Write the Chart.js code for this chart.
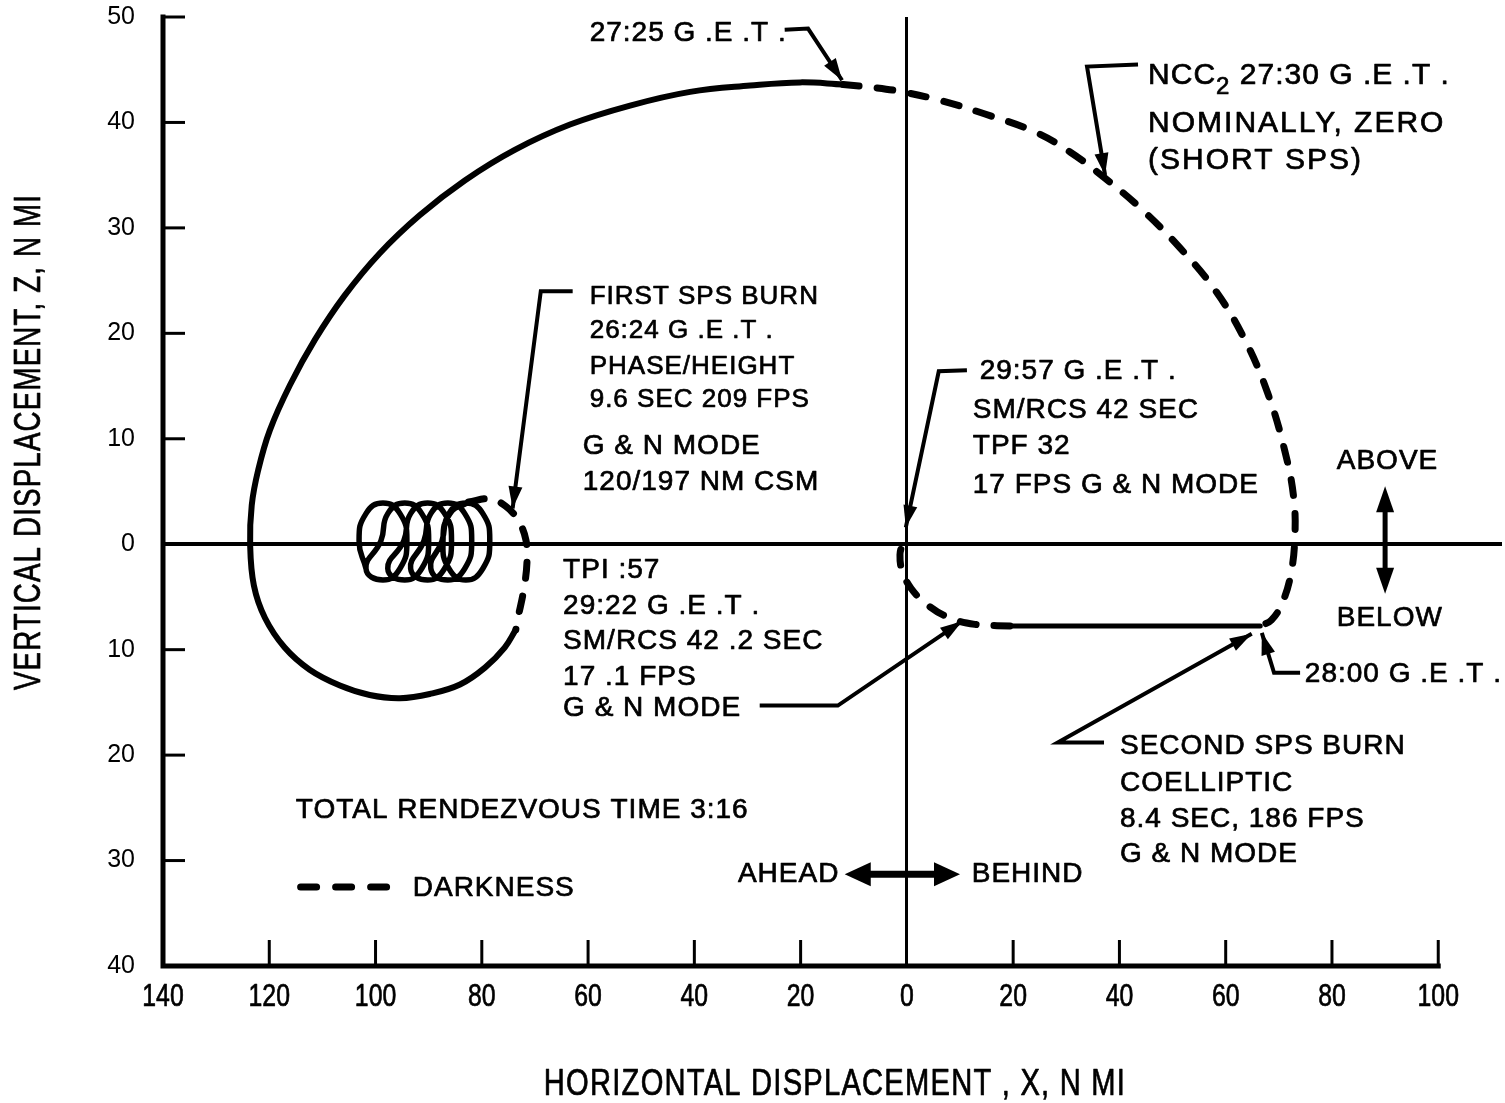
<!DOCTYPE html>
<html>
<head>
<meta charset="utf-8">
<script src="https://cdn.jsdelivr.net/npm/chart.js@4.4.1/dist/chart.umd.min.js"></script>
<style>
  body { margin: 0; background: #fff; }
  #wrap { width: 1505px; height: 1103px; }
</style>
</head>
<body>
<div id="wrap"><canvas id="myChart"></canvas></div>
<script>
// x < 0 is AHEAD (left half of the plot), y < 0 is BELOW; labels show absolute values
const xTickValues = [-140, -120, -100, -80, -60, -40, -20, 0, 20, 40, 60, 80, 100];
const yTickValues = [-40, -30, -20, -10, 0, 10, 20, 30, 40, 50];

// station keeping loops before the first SPS burn
const loopTrack = [
  [-101.8, -2.3], [-103.1, 0.3], [-101.8, 2.9], [-98.6, 3.9], [-95.4, 2.9], [-94.1, 0.3], [-95.4, -2.3], [-98.6, -3.4], [-101.8, -2.3],
  [-99.0, 0.3], [-97.7, 2.9], [-94.5, 3.9], [-91.3, 2.9], [-90.0, 0.3], [-91.3, -2.3], [-94.5, -3.4], [-97.7, -2.3],
  [-94.7, 0.3], [-93.4, 2.9], [-90.2, 3.9], [-87.0, 2.9], [-85.7, 0.3], [-87.0, -2.3], [-90.2, -3.4], [-93.4, -2.3],
  [-90.9, 0.3], [-89.6, 2.9], [-86.4, 3.9], [-83.2, 2.9], [-81.9, 0.3], [-83.2, -2.3], [-86.4, -3.4], [-89.6, -2.3],
  [-87.5, 0.3], [-86.2, 2.9], [-83.0, 3.9], [-79.8, 2.9], [-78.5, 0.3], [-79.8, -2.3], [-83.0, -3.4], [-86.2, -2.3],
  [-87.3, 0.3], [-86.0, 2.9], [-82.5, 4.0]
];

// darkness after the first SPS burn
const darkTrack1 = [
  [-82.5, 4.0], [-78.5, 4.3], [-75.5, 3.6], [-73.2, 2.3], [-71.7, 0.4], [-71.5, -1.7], [-72.1, -4.3], [-73.2, -7.0], [-73.6, -8.1]
];

// daylight, big loop up to 27:25
const lightTrack1 = [
  [-73.6, -8.1], [-75.7, -9.8], [-79.4, -11.7], [-84.1, -13.3], [-89.8, -14.2], [-95.4, -14.6], [-101.1, -14.3],
  [-106.7, -13.4], [-112.4, -11.9], [-117.1, -9.8], [-120.8, -7.0], [-122.9, -3.9], [-123.6, 0], [-123.3, 3.7],
  [-122.1, 7.0], [-119.9, 10.8], [-116.1, 15.1], [-111.4, 19.4], [-105.8, 23.6], [-99.2, 27.6], [-91.7, 31.2],
  [-83.2, 34.5], [-73.8, 37.4], [-63.4, 39.8], [-52.1, 41.6], [-40.8, 42.9], [-29.5, 43.5], [-20.1, 43.8], [-12.0, 43.6]
];

// darkness 27:25 -> 28:00
const darkTrack2 = [
  [-12.0, 43.6], [-6.0, 43.3], [-0.8, 42.9], [6.2, 42.1], [14.7, 40.8], [24.1, 39.1], [30.7, 37.2], [37.3, 34.7],
  [43.9, 31.9], [51.4, 28.1], [58.0, 24.1], [63.6, 19.4], [68.0, 14.2], [71.1, 8.9], [72.8, 4.4], [73.0, 0.5],
  [72.2, -3.0], [70.6, -5.6], [68.6, -7.2], [66.5, -7.75]
];

// coelliptic leg
const lightTrack2 = [[66.5, -7.75], [19.4, -7.75]];

// darkness, TPI to rendezvous
const darkTrack3 = [
  [19.4, -7.75], [12.8, -7.6], [8.1, -7.0], [4.0, -5.8], [0.8, -4.2], [-0.9, -2.5], [-1.3, -1.0], [-0.8, 0.1]
];

const toXY = arr => arr.map(p => ({ x: p[0], y: p[1] }));

// text notes, anchored at the left/middle of each line (axis units)
const notes = [
  { x: -59.7, y: 48.5, size: 28, text: "27:25 G .E .T ." },
  { x: 45.4, y: 39.9, size: 30, text: "NOMINALLY, ZERO", spacing: 2 },
  { x: 45.4, y: 36.4, size: 30, text: "(SHORT SPS)", spacing: 2 },
  { x: -59.7, y: 23.5, size: 26, text: "FIRST SPS BURN" },
  { x: -59.7, y: 20.2, size: 26, text: "26:24 G .E .T ." },
  { x: -59.7, y: 16.8, size: 26, text: "PHASE/HEIGHT" },
  { x: -59.7, y: 13.7, size: 26, text: "9.6 SEC 209 FPS" },
  { x: -61.0, y: 9.3, size: 28, text: "G & N MODE" },
  { x: -61.0, y: 5.9, size: 28, text: "120/197 NM CSM" },
  { x: 13.7, y: 16.4, size: 28, text: "29:57 G .E .T ." },
  { x: 12.4, y: 12.7, size: 28, text: "SM/RCS 42 SEC" },
  { x: 12.4, y: 9.3, size: 28, text: "TPF 32" },
  { x: 12.4, y: 5.6, size: 28, text: "17 FPS G & N MODE" },
  { x: -64.7, y: -2.5, size: 28, text: "TPI :57" },
  { x: -64.7, y: -5.9, size: 28, text: "29:22 G .E .T ." },
  { x: -64.7, y: -9.2, size: 28, text: "SM/RCS 42 .2 SEC" },
  { x: -64.7, y: -12.6, size: 28, text: "17 .1 FPS" },
  { x: -64.7, y: -15.6, size: 28, text: "G & N MODE" },
  { x: 74.9, y: -12.3, size: 28, text: "28:00 G .E .T ." },
  { x: 40.1, y: -19.2, size: 28, text: "SECOND SPS BURN" },
  { x: 40.1, y: -22.7, size: 28, text: "COELLIPTIC" },
  { x: 40.1, y: -26.1, size: 28, text: "8.4 SEC, 186 FPS" },
  { x: 40.1, y: -29.4, size: 28, text: "G & N MODE" },
  { x: -115.0, y: -25.2, size: 28, text: "TOTAL RENDEZVOUS TIME 3:16" },
  { x: -93.0, y: -32.6, size: 28, text: "DARKNESS" },
  { x: -31.8, y: -31.3, size: 28, text: "AHEAD" },
  { x: 12.2, y: -31.3, size: 28, text: "BEHIND" },
  { x: 80.9, y: 7.9, size: 28, text: "ABOVE" },
  { x: 80.9, y: -7.0, size: 28, text: "BELOW" }
];

// leader lines, last point carries the arrow head
const leaders = [
  [[-23.0, 48.8], [-18.6, 48.9], [-12.2, 44.0]],
  [[43.5, 45.5], [33.9, 45.3], [37.3, 35.0]],
  [[-62.9, 24.0], [-68.9, 24.0], [-74.2, 3.4]],
  [[11.3, 16.5], [6.0, 16.4], [-0.2, 1.6]],
  [[-27.7, -15.3], [-13.0, -15.3], [10.4, -7.3]],
  [[74.0, -12.2], [69.1, -12.2], [66.8, -8.4]],
  [[37.1, -18.8], [28.4, -18.8], [64.9, -8.5]]
];

const FONT = "'Liberation Sans', Arial, sans-serif";

function arrowHead(ctx, x0, y0, x1, y1, len, half) {
  const a = Math.atan2(y1 - y0, x1 - x0);
  ctx.beginPath();
  ctx.moveTo(x1, y1);
  ctx.lineTo(x1 - len * Math.cos(a) + half * Math.sin(a), y1 - len * Math.sin(a) - half * Math.cos(a));
  ctx.lineTo(x1 - len * Math.cos(a) - half * Math.sin(a), y1 - len * Math.sin(a) + half * Math.cos(a));
  ctx.closePath();
  ctx.fill();
}

// heavier lettering: fill plus a hairline stroke
function inkText(ctx, text, x, y) {
  ctx.fillText(text, x, y);
  ctx.strokeText(text, x, y);
}

// condensed text: squeeze horizontally around the anchor
function narrowText(ctx, text, x, y, squeeze) {
  ctx.save();
  ctx.translate(x, y);
  ctx.scale(squeeze, 1);
  inkText(ctx, text, 0, 0);
  ctx.restore();
}

const paperPlugin = {
  id: "paper",
  afterDraw(chart) {
    const ctx = chart.ctx;
    const xs = chart.scales.x, ys = chart.scales.y;
    const px = v => xs.getPixelForValue(v);
    const py = v => ys.getPixelForValue(v);
    ctx.save();
    ctx.strokeStyle = "#000";
    ctx.fillStyle = "#000";

    // axis frame (left + bottom only)
    ctx.lineWidth = 5;
    ctx.lineCap = "square";
    ctx.beginPath();
    ctx.moveTo(px(-140), py(50));
    ctx.lineTo(px(-140), py(-40));
    ctx.lineTo(px(100), py(-40));
    ctx.stroke();

    // inward tick marks
    ctx.lineWidth = 3;
    ctx.lineCap = "butt";
    yTickValues.forEach(v => {
      if (v === -40 || v === 0) return;
      ctx.beginPath();
      ctx.moveTo(px(-140), py(v));
      ctx.lineTo(px(-140) + 22, py(v));
      ctx.stroke();
    });
    xTickValues.forEach(v => {
      if (v === -140 || v === 0) return;
      ctx.beginPath();
      ctx.moveTo(px(v), py(-40));
      ctx.lineTo(px(v), py(-40) - 26);
      ctx.stroke();
    });

    // leaders
    ctx.lineWidth = 4;
    ctx.lineJoin = "miter";
    leaders.forEach(pts => {
      ctx.beginPath();
      pts.forEach((p, i) => i ? ctx.lineTo(px(p[0]), py(p[1])) : ctx.moveTo(px(p[0]), py(p[1])));
      ctx.stroke();
      const a = pts[pts.length - 2], b = pts[pts.length - 1];
      arrowHead(ctx, px(a[0]), py(a[1]), px(b[0]), py(b[1]), 22, 7);
    });

    // AHEAD <-> BEHIND
    ctx.lineWidth = 7;
    const ay = py(-31.3), ax0 = px(-11.7), ax1 = px(10.0);
    ctx.beginPath(); ctx.moveTo(ax0 + 15, ay); ctx.lineTo(ax1 - 15, ay); ctx.stroke();
    arrowHead(ctx, ax1, ay, ax0, ay, 26, 12);
    arrowHead(ctx, ax0, ay, ax1, ay, 26, 12);

    // ABOVE / BELOW
    ctx.lineWidth = 5;
    const bx = px(90.0), by0 = py(5.5), by1 = py(-4.7);
    ctx.beginPath(); ctx.moveTo(bx, by0 + 15); ctx.lineTo(bx, by1 - 15); ctx.stroke();
    arrowHead(ctx, bx, by1, bx, by0, 26, 9);
    arrowHead(ctx, bx, by0, bx, by1, 26, 9);

    // darkness key
    ctx.lineWidth = 7;
    ctx.lineCap = "round";
    ctx.setLineDash([16, 19]);
    ctx.beginPath(); ctx.moveTo(px(-114.1), py(-32.5)); ctx.lineTo(px(-97.6), py(-32.5)); ctx.stroke();
    ctx.setLineDash([]);

    // all lettering from here on
    ctx.lineWidth = 0.7;
    ctx.lineJoin = "round";

    // x tick labels, condensed like the original lettering
    ctx.textAlign = "center";
    ctx.textBaseline = "middle";
    ctx.font = "31px " + FONT;
    ctx.letterSpacing = "0px";
    xs.ticks.forEach(t => {
      narrowText(ctx, String(Math.abs(t.value)), px(t.value), py(-40) + 31, 0.8);
    });

    // notes
    ctx.textAlign = "left";
    notes.forEach(n => {
      ctx.font = n.size + "px " + FONT;
      ctx.letterSpacing = (n.spacing || 1) + "px";
      inkText(ctx, n.text, px(n.x), py(n.y));
    });

    // NCC2 line with subscript
    let nx = px(45.4);
    const ny = py(44.4);
    ctx.font = "30px " + FONT;
    ctx.letterSpacing = "1px";
    inkText(ctx, "NCC", nx, ny);
    nx += ctx.measureText("NCC").width;
    ctx.font = "24px " + FONT;
    inkText(ctx, "2", nx, ny + 11);
    nx += ctx.measureText("2").width;
    ctx.font = "30px " + FONT;
    inkText(ctx, " 27:30 G .E .T .", nx, ny);

    // axis titles
    ctx.textAlign = "center";
    ctx.font = "36px " + FONT;
    ctx.letterSpacing = "1.5px";
    narrowText(ctx, "HORIZONTAL DISPLACEMENT , X, N MI", 835, chart.height - 18, 0.81);
    ctx.translate(30, 442);
    ctx.rotate(-Math.PI / 2);
    narrowText(ctx, "VERTICAL DISPLACEMENT, Z, N MI", 0, 0, 0.77);
    ctx.restore();
  }
};

const trackStyle = {
  showLine: true,
  borderColor: "#000",
  borderWidth: 6,
  pointRadius: 0,
  fill: false,
  borderCapStyle: "round",
  borderJoinStyle: "round"
};
const darkDash = [16, 18];

const ctx = document.getElementById("myChart").getContext("2d");
new Chart(ctx, {
  type: "scatter",
  data: {
    datasets: [
      Object.assign({ data: toXY(loopTrack), tension: 0.5 }, trackStyle, { borderWidth: 5.5 }),
      Object.assign({ data: toXY(darkTrack1), tension: 0.4, borderDash: darkDash }, trackStyle, { borderWidth: 7 }),
      Object.assign({ data: toXY(lightTrack1), tension: 0.4 }, trackStyle),
      Object.assign({ data: toXY(darkTrack2), tension: 0.4, borderDash: darkDash }, trackStyle, { borderWidth: 7 }),
      Object.assign({ data: toXY(lightTrack2), tension: 0 }, trackStyle, { borderWidth: 5 }),
      Object.assign({ data: toXY(darkTrack3), tension: 0.4, borderDash: darkDash }, trackStyle, { borderWidth: 7 })
    ]
  },
  options: {
    responsive: true,
    maintainAspectRatio: false,
    animation: false,
    devicePixelRatio: 1,
    layout: { padding: { top: 17, right: 3, bottom: 0, left: 0 } },
    plugins: { legend: { display: false }, tooltip: { enabled: false } },
    scales: {
      x: {
        type: "linear",
        min: -140,
        max: 112,
        afterBuildTicks: s => { s.ticks = xTickValues.map(v => ({ value: v })); },
        afterFit: s => { s.height = 137; s.paddingLeft = 0; s.paddingRight = 0; },
        border: { display: false },
        grid: {
          drawTicks: false,
          color: c => (c.tick && c.tick.value === 0 ? "#000" : "rgba(0,0,0,0)"),
          lineWidth: 3
        },
        ticks: { display: false }
      },
      y: {
        type: "linear",
        min: -40,
        max: 50,
        afterBuildTicks: s => { s.ticks = yTickValues.map(v => ({ value: v })); },
        afterFit: s => { s.width = 163; s.paddingTop = 0; s.paddingBottom = 0; },
        border: { display: false },
        grid: {
          drawTicks: false,
          color: c => (c.tick && c.tick.value === 0 ? "#000" : "rgba(0,0,0,0)"),
          lineWidth: 4
        },
        ticks: {
          padding: 28,
          color: "#000",
          font: { family: FONT, size: 25 },
          callback: v => Math.abs(v)
        }
      }
    }
  },
  plugins: [paperPlugin]
});
</script>
</body>
</html>
